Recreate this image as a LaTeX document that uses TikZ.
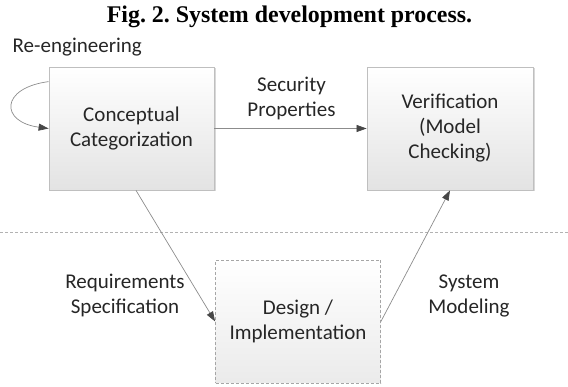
\documentclass[tikz,border=0pt]{standalone}
\usepackage{fontspec}
\setmainfont{Carlito}
\newfontfamily\titlefont{Liberation Serif}
\usetikzlibrary{arrows.meta,shadows,calc}
\frenchspacing
\begin{document}
\begin{tikzpicture}[x=1pt,y=-1pt,
  box/.style={draw=black!25, line width=0.8pt, top color=white, bottom color=black!11,
    minimum width=165pt, minimum height=123pt, inner sep=0pt, align=center,
    font=\fontsize{21}{25}\selectfont, text=black!85},
  solidbox/.style={box, drop shadow={shadow xshift=1.5pt, shadow yshift=-1.5pt, fill=black!30, opacity=0.5}},
  dashbox/.style={box, draw=black!35, dash pattern=on 3pt off 2pt, top color=white, bottom color=black!8},
  lbl/.style={align=center, font=\fontsize{21}{25}\selectfont, text=black!85, inner sep=0pt},
  conn/.style={draw=black!45, line width=0.7pt, -{Triangle[length=10pt,width=7pt,color=black!72]}},
  sep/.style={draw=black!30, line width=0.8pt, dash pattern=on 3pt off 2pt},
]
\useasboundingbox (0,0) rectangle (568,387);

\node[font=\titlefont\bfseries\fontsize{23.9}{28}\selectfont, anchor=base, inner sep=0pt] (title) at (289.5,23) {Fig. 2. System development process.};

\coordinate (hl) at (0,232);
\coordinate (hr) at (568,232);
\draw[sep] (hl) -- (hr);

\node[solidbox] (cc) at (131.5,128.5) {Conceptual\\Categorization};
\node[solidbox, minimum width=166pt] (ver) at (450,128.5) {Verification\\(Model\\Checking)};
\node[dashbox] (des) at (298,321.5) {Design /\\Implementation};

\node[lbl, anchor=base west] (reeng) at (12.5,53) {Re-engineering};
\node[lbl] (secp) at (291.5,98) {Security\\Properties};
\node[lbl] (reqs) at (125,295.5) {Requirements\\Specification};
\node[lbl] (sysm) at (469,295.5) {System\\Modeling};

\draw[conn] ([yshift=-15pt]cc.north west) .. controls (0,88) and (0,122) .. (cc.west);
\draw[conn] (cc.east) -- (ver.west);
\draw[conn] ([xshift=4.5pt]cc.south) -- (des.west);
\draw[conn] (des.east) -- (ver.south);
\end{tikzpicture}
\end{document}
